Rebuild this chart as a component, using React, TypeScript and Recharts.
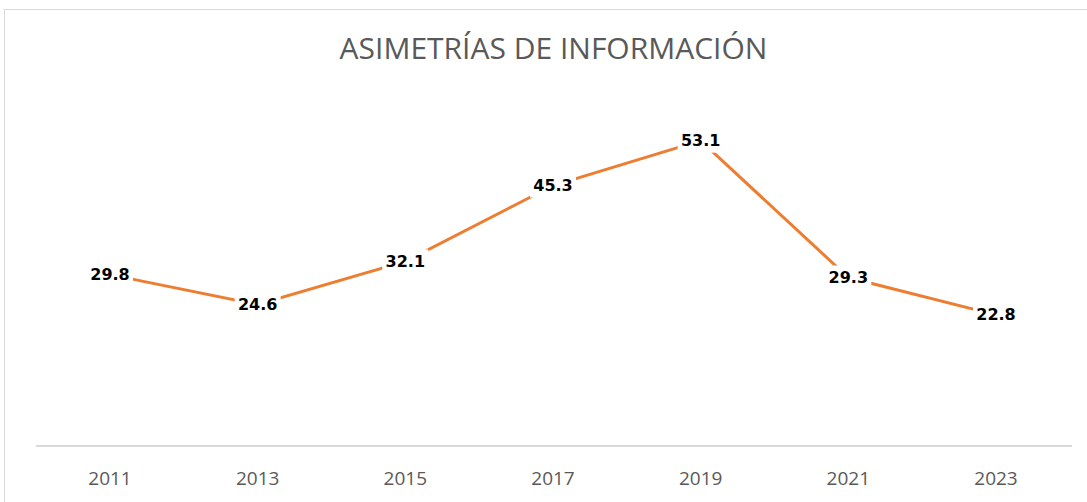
import { LineChart, Line, XAxis, YAxis, LabelList } from "recharts";

const years = ["2011", "2013", "2015", "2017", "2019", "2021", "2023"];
const values = [29.8, 24.6, 32.1, 45.3, 53.1, 29.3, 22.8];

const data = years.map((year, i) => ({ year, value: values[i] }));

const renderLabel = (props: any) => {
  const { x, y, value } = props;
  const text = Number(value).toFixed(1);
  return (
    <g>
      <rect x={x - 23} y={y - 12} width={46} height={24} fill="#ffffff" />
      <text
        x={x}
        y={y}
        textAnchor="middle"
        dominantBaseline="central"
        fontFamily="DejaVu Sans"
        fontWeight="bold"
        fontSize={16}
        fill="#000000"
      >
        {text}
      </text>
    </g>
  );
};

export default function App() {
  return (
    <div
      style={{
        position: "absolute",
        left: 4,
        top: 9,
        width: 1100,
        height: 520,
        border: "1px solid #d9d9d9",
        background: "#ffffff",
      }}
    >
      <div
        style={{
          position: "absolute",
          left: 0,
          width: 1097,
          top: 17,
          textAlign: "center",
          fontFamily: "'Open Sans'",
          fontSize: 30,
          color: "#595959",
        }}
      >
        ASIMETRÍAS DE INFORMACIÓN
      </div>
      <LineChart
        width={1083}
        height={492}
        data={data}
        margin={{ top: 91, right: 16, bottom: 26, left: 31 }}
      >
        <XAxis
          dataKey="year"
          padding={{ left: 74, right: 76 }}
          axisLine={{ stroke: "#d9d9d9", strokeWidth: 2 }}
          tickLine={false}
          tickMargin={20}
          height={30}
          tick={{ fill: "#595959", fontSize: 19, fontFamily: "'Open Sans'" }}
        />
        <YAxis hide domain={[0, 60]} />
        <Line
          type="linear"
          dataKey="value"
          stroke="#ed7d31"
          strokeWidth={3}
          dot={false}
          isAnimationActive={false}
        >
          <LabelList dataKey="value" content={renderLabel} />
        </Line>
      </LineChart>
    </div>
  );
}
